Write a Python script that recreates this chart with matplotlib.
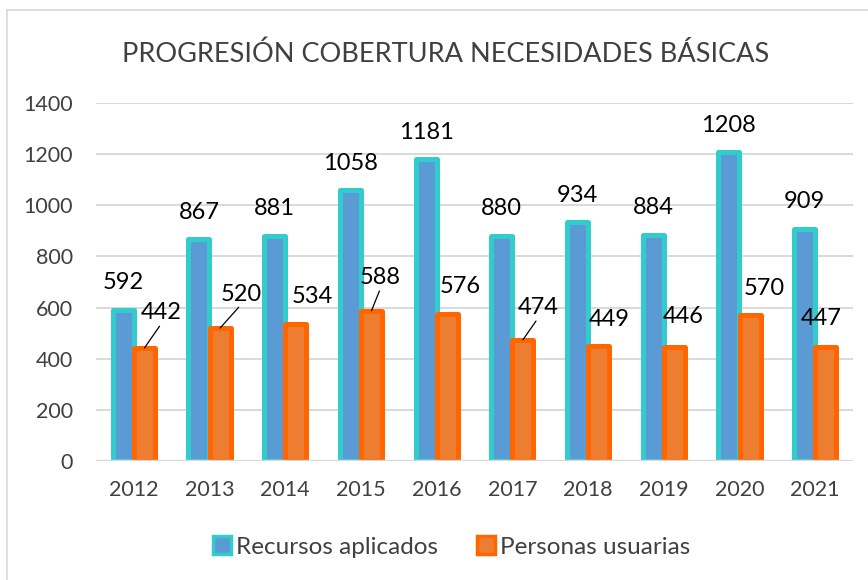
import matplotlib
matplotlib.use("Agg")
import matplotlib.pyplot as plt
from matplotlib.patches import Patch
import numpy as np

plt.rcParams['font.family'] = ['Lato', 'DejaVu Sans']

years = ['2012', '2013', '2014', '2015', '2016', '2017', '2018', '2019', '2020', '2021']
recursos = [592, 867, 881, 1058, 1181, 880, 934, 884, 1208, 909]
personas = [442, 520, 534, 588, 576, 474, 449, 446, 570, 447]

# label placement for the orange series (pixels from bar top), and which get a leader line
orange_offsets = [(17, -35), (21, -34), (16, -28), (9, -33), (13, -27),
                  (15, -32), (11, -27), (9, -30), (14, -27), (-5, -28)]
orange_leader = [True, True, False, True, False, True, False, False, False, False]

blue_fill, blue_edge = '#5B9BD5', '#33CCCC'
orange_fill, orange_edge = '#ED7D31', '#FF6600'
text_grey = '#404040'

fig = plt.figure(figsize=(8.68, 5.8), dpi=100)
ax = fig.add_axes([0.1106, 0.2052, 0.8721, 0.6172])

x = np.arange(len(years))
w = 0.277
off = 0.14

ax.bar(x - off, recursos, w, color=blue_fill, edgecolor=blue_edge,
       linewidth=3.6, joinstyle='round', zorder=2)
ax.bar(x + off, personas, w, color=orange_fill, edgecolor=orange_edge,
       linewidth=3.6, joinstyle='round', zorder=3)

for xi, v in zip(x, recursos):
    ax.annotate(str(v), (xi - off, v), xytext=(0, 27), textcoords='offset pixels',
                ha='center', va='center', fontsize=17, color='black', zorder=5)

for xi, v, (dx, dy), lead in zip(x, personas, orange_offsets, orange_leader):
    props = None
    if lead:
        props = dict(arrowstyle='-', color='black', lw=0.9, shrinkA=0, shrinkB=0,
                     relpos=(0.5, 0.0))
    ax.annotate(str(v), (xi + off, v), xytext=(dx, -dy), textcoords='offset pixels',
                ha='center', va='center', fontsize=17, color='black',
                arrowprops=props, zorder=5)

ax.set_xlim(-0.5, len(years) - 0.5)
ax.set_ylim(0, 1400)
ax.set_yticks(range(0, 1401, 200))
ax.set_xticks(x)
ax.set_xticklabels(years)
ax.tick_params(axis='both', length=0, labelsize=15.5, colors=text_grey)
ax.tick_params(axis='y', pad=16.5)
ax.tick_params(axis='x', pad=14)

ax.grid(axis='y', color='#D9D9D9', linewidth=1.4, zorder=0)
ax.set_axisbelow(True)
for s in ax.spines.values():
    s.set_visible(False)
ax.axhline(0, color='#D9D9D9', linewidth=2.4, zorder=4)

fig.text(0.513, 0.907, 'PROGRESIÓN COBERTURA NECESIDADES BÁSICAS',
         ha='center', va='center', fontsize=19.5, color=text_grey)

handles = [Patch(facecolor=blue_fill, edgecolor=blue_edge, linewidth=2.5),
           Patch(facecolor=orange_fill, edgecolor=orange_edge, linewidth=2.5)]
fig.legend(handles, ['Recursos aplicados', 'Personas usuarias'], loc='center',
           bbox_to_anchor=(0.52, 0.057), ncol=2, frameon=False, fontsize=17.5,
           handlelength=0.75, handleheight=0.75, handletextpad=0.2,
           columnspacing=1.6, labelcolor=text_grey)

# outer chart frame
fig.add_artist(plt.Line2D([0.008, 0.008], [0, 0.982], color='#D9D9D9', lw=1.2))
fig.add_artist(plt.Line2D([0.008, 1.0], [0.982, 0.982], color='#D9D9D9', lw=1.2))

fig.savefig('out.png', dpi=100)
